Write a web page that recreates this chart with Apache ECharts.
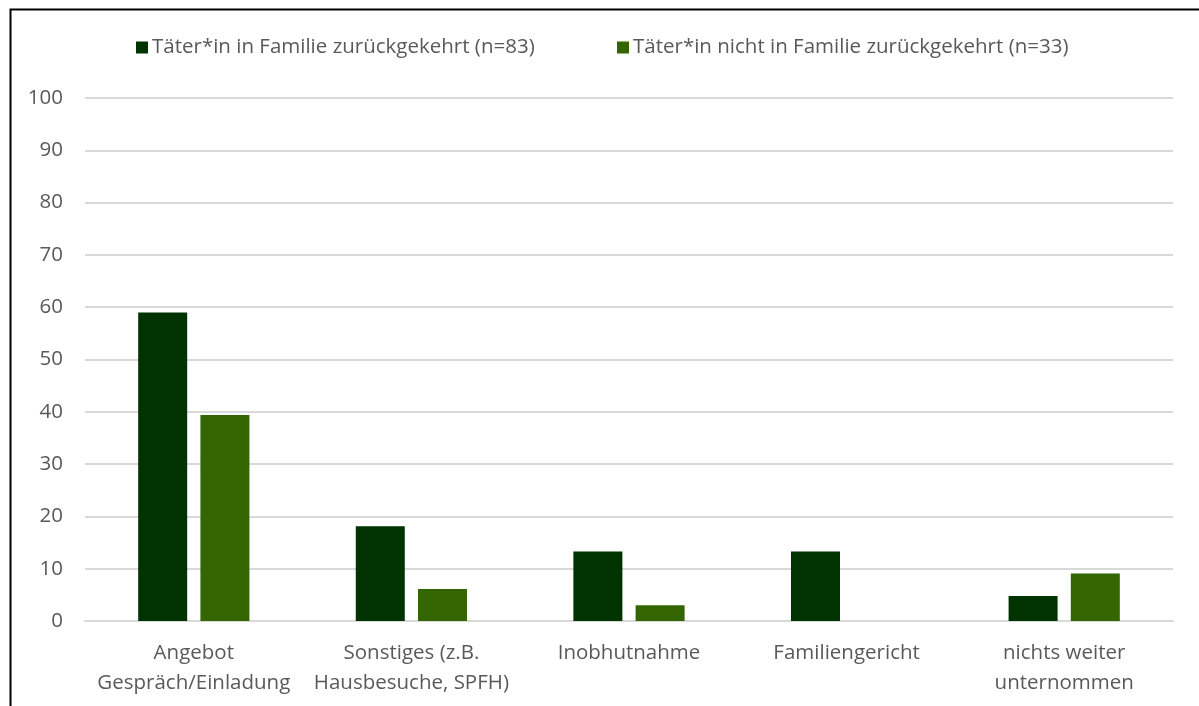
<!DOCTYPE html>
<html>
<head>
<meta charset="utf-8">
<script src="https://cdn.jsdelivr.net/npm/echarts@6/dist/echarts.min.js"></script>
<style>
  html, body { margin: 0; padding: 0; background: #fff; }
  #chart { width: 1199px; height: 706px; }
</style>
</head>
<body>
<div id="chart"></div>
<script>
// Categories of measures taken
const categories = [
  'Angebot\nGespräch/Einladung',
  'Sonstiges (z.B.\nHausbesuche, SPFH)',
  'Inobhutnahme',
  'Familiengericht',
  'nichts weiter\nunternommen'
];
// Percent values per group
const seriesNames = [
  'Täter*in in Familie zurückgekehrt (n=83)',
  'Täter*in nicht in Familie zurückgekehrt (n=33)'
];
const returnedValues = [59.0, 18.1, 13.3, 13.3, 4.8];
const notReturnedValues = [39.4, 6.1, 3.0, 0, 9.1];
const yTicks = [0, 10, 20, 30, 40, 50, 60, 70, 80, 90, 100];

const FONT = 'Open Sans';
const TEXT = '#595959';
const GRID = '#d9d9d9';
const SIZE = 20.5;

function legendItem(name, left) {
  return {
    top: 32,
    left: left,
    itemWidth: 12, itemHeight: 12,
    itemGap: 0,
    icon: 'rect',
    textStyle: { fontFamily: FONT, fontSize: SIZE, color: TEXT, padding: [0, 0, 0, -1] },
    data: [name]
  };
}

const chart = echarts.init(document.getElementById('chart'), null, { renderer: 'canvas' });
chart.setOption({
  animation: false,
  backgroundColor: '#fff',
  textStyle: { fontFamily: FONT, color: TEXT },
  graphic: [{
    type: 'rect',
    left: 8, top: 7,
    shape: { width: 1300, height: 800 },
    style: { fill: 'none', stroke: '#000', lineWidth: 2 },
    silent: true
  }],
  legend: [legendItem(seriesNames[0], 131), legendItem(seriesNames[1], 612)],
  grid: { left: 85, right: 26, top: 98, bottom: 85, containLabel: false },
  xAxis: {
    type: 'category',
    data: categories,
    axisLine: { lineStyle: { color: GRID, width: 2 } },
    axisTick: { show: false },
    axisLabel: { fontFamily: FONT, fontSize: SIZE, color: TEXT, lineHeight: 30, margin: 17, interval: 0 }
  },
  yAxis: {
    type: 'value',
    min: yTicks[0], max: yTicks[yTicks.length - 1], interval: 10,
    axisLine: { show: false },
    axisTick: { show: false },
    splitLine: { lineStyle: { color: GRID, width: 2 } },
    axisLabel: { fontFamily: FONT, fontSize: SIZE, color: TEXT, margin: 22 }
  },
  series: [
    {
      name: seriesNames[0], type: 'bar', data: returnedValues,
      barWidth: 49, barGap: '27%',
      itemStyle: { color: '#003300' }
    },
    {
      name: seriesNames[1], type: 'bar', data: notReturnedValues,
      barWidth: 49,
      itemStyle: { color: '#336600' }
    }
  ]
});
</script>
</body>
</html>
